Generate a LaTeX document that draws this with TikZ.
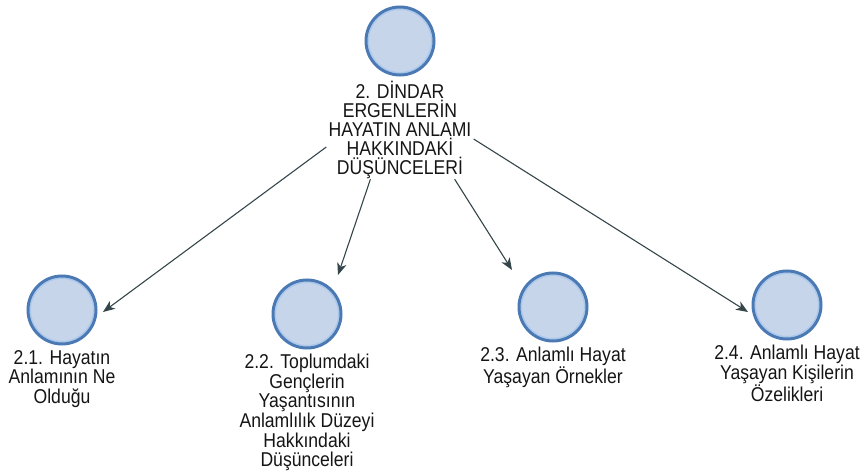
\documentclass[tikz,border=0pt]{standalone}
\usepackage{fontspec}
\setmainfont{Liberation Sans}
\newfontfamily\lblfont[FakeStretch=0.88]{Liberation Sans}
\usetikzlibrary{arrows.meta,calc}
\definecolor{cfill}{HTML}{C6D5EA}
\definecolor{cborder}{HTML}{4A79B4}
\definecolor{ringc}{HTML}{A9C8EE}
\definecolor{arrc}{HTML}{34464A}
\definecolor{txtc}{HTML}{151515}
\begin{document}
\begin{tikzpicture}[x=1pt,y=-1pt,
  bubble/.style={circle,draw=cborder,fill=cfill,line width=3pt,minimum size=68pt,inner sep=0pt,
    path picture={\draw[ringc,line width=1.2pt] (path picture bounding box.center) circle (31.6pt);}},
  lbl/.style={anchor=north,align=center,inner sep=0pt,text=txtc,font=\lblfont\fontsize{20}{19.6}\selectfont},
  toplbl/.style={align=center,inner sep=0pt,text=txtc,font=\lblfont\fontsize{20}{18.8}\selectfont,minimum width=147pt,minimum height=98pt},
  arr/.style={draw=arrc,line width=1.1pt,-{Stealth[length=12pt,width=9.5pt,inset=3.5pt]}}]
\useasboundingbox (0,0) rectangle (863,476);
% root
\node[bubble] (c0) at (400,41) {};
\node[toplbl] (t0) at (400,130) {2. DİNDAR\\ERGENLERİN\\HAYATIN ANLAMI\\HAKKINDAKİ\\DÜŞÜNCELERİ};
% children
\node[bubble] (c1) at (62,310) {};
\node[lbl] (t1) at ($(c1)+(0,40)$) {2.1. Hayatın\\Anlamının Ne\\Olduğu};
\node[bubble] (c2) at (307,314) {};
\node[lbl] (t2) at ($(c2)+(0,40)$) {2.2. Toplumdaki\\Gençlerin\\Yaşantısının\\Anlamlılık Düzeyi\\Hakkındaki\\Düşünceleri};
\node[bubble] (c3) at (553,307) {};
\node[lbl] (t3) at ($(c3)+(0,40)$) {2.3. Anlamlı Hayat\\Yaşayan Örnekler};
\node[bubble] (c4) at (787,305) {};
\node[lbl] (t4) at ($(c4)+(0,40)$) {2.4. Anlamlı Hayat\\Yaşayan Kişilerin\\Özelikleri};
% connectors
\draw[arr] (t0.193.1) -- ($(c1)+(41,2)$);
\draw[arr] (t0.239) -- ($(c2)+(31,-39)$);
\draw[arr] (t0.318.7) -- ($(c3)+(-41,-37)$);
\draw[arr] (t0.353.7) -- ($(c4)+(-39,7)$);
\end{tikzpicture}
\end{document}
